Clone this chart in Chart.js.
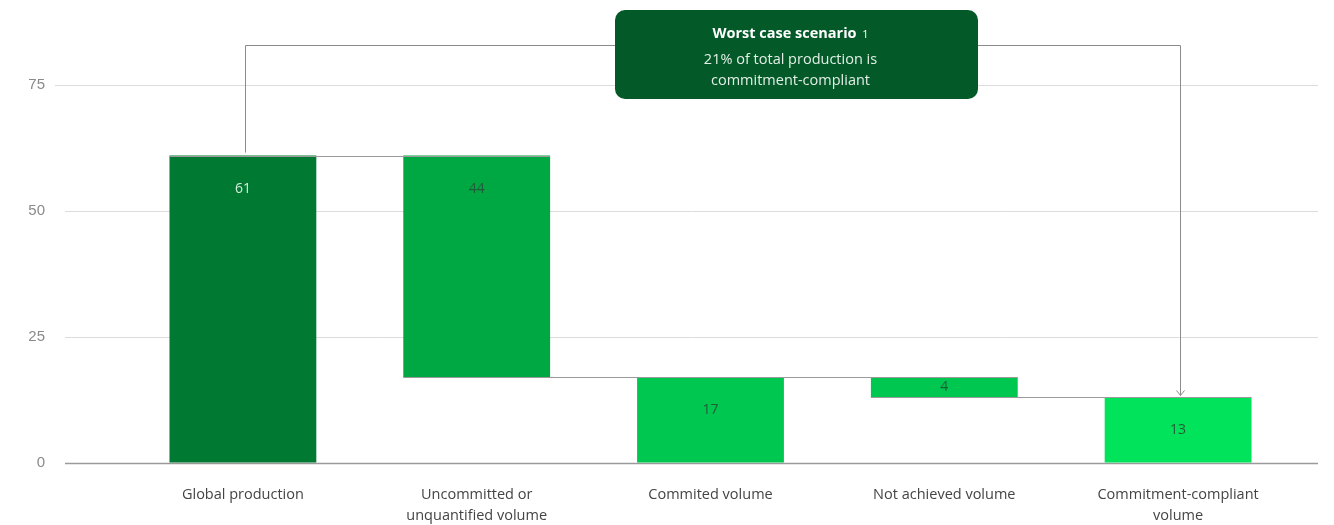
<!DOCTYPE html>
<html>
<head>
<meta charset="UTF-8">
<title>Production volume</title>
<style>
  html, body { margin: 0; padding: 0; background: #fff; }
</style>
</head>
<body>
<canvas id="myChart" width="1334" height="525"></canvas>
<script src="https://cdn.jsdelivr.net/npm/chart.js@4.4.1/dist/chart.umd.min.js"></script>
<script>
const categories = [['Global production'], ['Uncommitted or', 'unquantified volume'], ['Commited volume'], ['Not achieved volume'], ['Commitment-compliant', 'volume']];
const values = [61, 44, 17, 4, 13];
// 'total' bars stand on zero, 'drop' bars hang from the running level
const steps = ['total', 'drop', 'total', 'drop', 'total'];
const yTicks = [0, 25, 50, 75];
const barColors = ['#007a33', '#00a843', '#00c74f', '#00c74f', '#00e35a'];
const labelColors = ['#d6ecdc', '#1f5d37', '#1f5d37', '#1f5d37', '#1f5d37'];

let level = 0;
const ranges = values.map((v, i) => {
  if (steps[i] === 'total') { level = v; return [0, v]; }
  const r = [level - v, level];
  level -= v;
  return r;
});

const FONT = '"Open Sans", "Noto Sans", sans-serif';

const waterfall = {
  id: 'waterfall',
  beforeDatasetsDraw(chart) {
    const { ctx, scales: { y } } = chart;
    ctx.save();
    yTicks.forEach(t => {
      const py = Math.round(y.getPixelForValue(t)) + 0.5;
      ctx.strokeStyle = t === 0 ? '#9a9a9a' : '#dcdcdc';
      ctx.lineWidth = t === 0 ? 1.5 : 1;
      ctx.beginPath();
      ctx.moveTo(t === 75 ? 55 : 65, py);
      ctx.lineTo(1318, py);
      ctx.stroke();
    });
    ctx.restore();
  },
  afterDatasetsDraw(chart) {
    const { ctx, scales: { x, y } } = chart;
    const bars = chart.getDatasetMeta(0).data;
    ctx.save();

    // step connectors
    ctx.strokeStyle = '#9a9a9a';
    ctx.lineWidth = 1;
    for (let i = 0; i < bars.length - 1; i++) {
      const py = Math.round(y.getPixelForValue(ranges[i + 1][1])) + 0.5;
      const a = bars[i], b = bars[i + 1];
      ctx.beginPath();
      ctx.moveTo(a.x - a.width / 2, py);
      ctx.lineTo(b.x + b.width / 2, py);
      ctx.stroke();
    }

    // value labels
    ctx.font = '14px ' + FONT;
    ctx.textAlign = 'center';
    ctx.textBaseline = 'middle';
    bars.forEach((bar, i) => {
      const top = y.getPixelForValue(ranges[i][1]);
      const bottom = y.getPixelForValue(ranges[i][0]);
      const ly = bottom - top > 70 ? top + 33 : (top + bottom) / 2;
      ctx.fillStyle = labelColors[i];
      ctx.fillText(String(values[i]), bar.x, ly);
    });

    // bracket from the first total to the last one
    const x0 = Math.round(x.getPixelForValue(0)) + 2.5;
    const x1 = Math.round(x.getPixelForValue(values.length - 1)) + 2.5;
    const yTop = 45.5;
    const yStart = y.getPixelForValue(ranges[0][1]) - 3;
    const yEnd = y.getPixelForValue(ranges[ranges.length - 1][1]) - 2;
    ctx.strokeStyle = '#8c8c8c';
    ctx.beginPath();
    ctx.moveTo(x0, yStart);
    ctx.lineTo(x0, yTop);
    ctx.lineTo(x1, yTop);
    ctx.lineTo(x1, yEnd);
    ctx.moveTo(x1 - 4, yEnd - 5);
    ctx.lineTo(x1, yEnd);
    ctx.lineTo(x1 + 4, yEnd - 5);
    ctx.stroke();

    // callout box
    const bx = 615, by = 10, bw = 363, bh = 89, cx = bx + bw / 2 - 6;
    ctx.fillStyle = '#035a28';
    ctx.beginPath();
    ctx.roundRect(bx, by, bw, bh, 10);
    ctx.fill();

    const title = 'Worst case scenario';
    ctx.font = 'bold 14.5px ' + FONT;
    const tw = ctx.measureText(title).width;
    ctx.font = '11px ' + FONT;
    const sw = ctx.measureText('  1').width;
    const tx = cx - (tw + sw) / 2;
    ctx.textAlign = 'left';
    ctx.fillStyle = '#ffffff';
    ctx.font = 'bold 14.5px ' + FONT;
    ctx.fillText(title, tx, 34);
    ctx.font = '11px ' + FONT;
    ctx.fillText('  1', tx + tw, 35);

    ctx.textAlign = 'center';
    ctx.font = '14.5px ' + FONT;
    ctx.fillStyle = '#e3efe6';
    ctx.fillText('21% of total production is', cx, 59.5);
    ctx.fillText('commitment-compliant', cx, 80.5);
    ctx.restore();
  }
};

const ctx = document.getElementById('myChart').getContext('2d');
new Chart(ctx, {
  type: 'bar',
  data: {
    labels: categories,
    datasets: [{
      data: ranges,
      backgroundColor: barColors,
      borderWidth: 0,
      borderSkipped: false,
      categoryPercentage: 1,
      barPercentage: 0.628
    }]
  },
  options: {
    responsive: false,
    animation: false,
    layout: { padding: { top: 85, right: 39, left: 0, bottom: 0 } },
    plugins: { legend: { display: false }, tooltip: { enabled: false } },
    scales: {
      x: {
        grid: { display: false, drawTicks: false },
        border: { display: false },
        ticks: { color: '#444', font: { family: FONT, size: 14.5, lineHeight: 1.45 }, padding: 21, maxRotation: 0, autoSkip: false },
        afterFit: s => { s.height = 62; }
      },
      y: {
        min: 0,
        max: 75,
        afterBuildTicks: s => { s.ticks = yTicks.map(v => ({ value: v })); },
        grid: { display: true, color: 'rgba(0,0,0,0)', drawTicks: true, tickLength: 73 },
        border: { display: false },
        ticks: { color: '#8a8a8a', font: { family: '"Liberation Sans", Arial, sans-serif', size: 15 }, padding: 8 },
        afterFit: s => { s.width = 126; }
      }
    }
  },
  plugins: [waterfall]
});
</script>
</body>
</html>
